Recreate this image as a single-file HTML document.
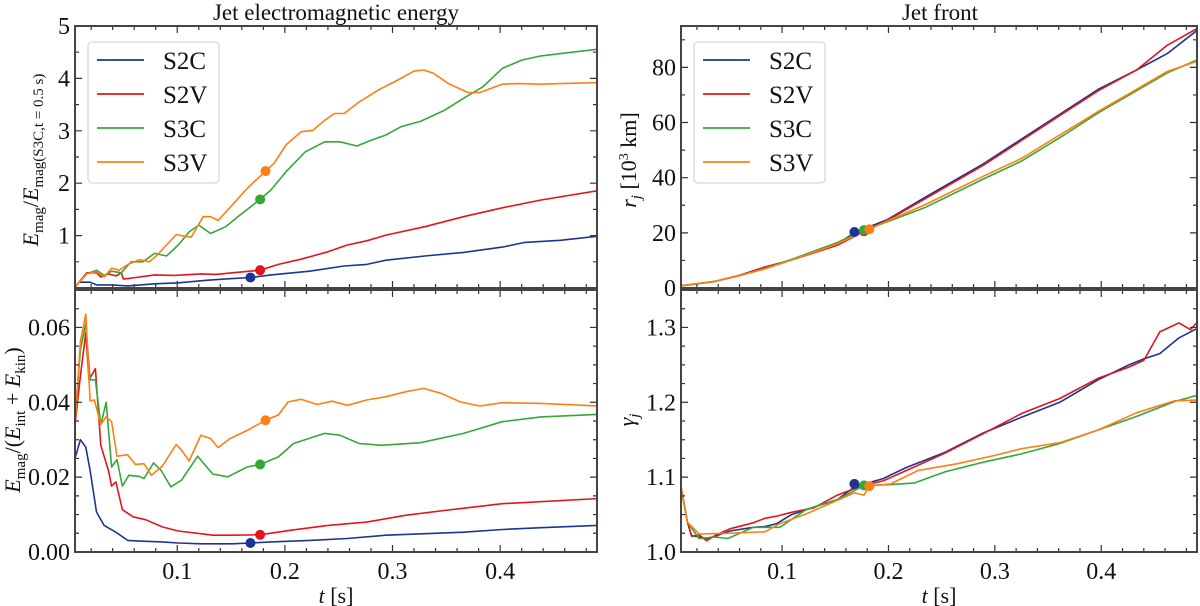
<!DOCTYPE html>
<html><head><meta charset="utf-8"><style>
html,body{margin:0;padding:0;background:#fff;}
svg{display:block;font-family:"Liberation Serif",serif;}
</style></head><body>
<svg id="fig" width="1200" height="606" viewBox="0 0 1200 606" xmlns="http://www.w3.org/2000/svg">
<text x="336" y="20" font-size="23" text-anchor="middle" fill="#111">Jet electromagnetic energy</text>
<text x="940" y="20" font-size="23" text-anchor="middle" fill="#111">Jet front</text>
<g id="plots"></g>
</svg>
<script>
const NS="http://www.w3.org/2000/svg";
const seriesNames=["S2C","S2V","S3C","S3V"];
const colors=["#1c3591","#e4141b","#35a839","#ff7f12"];
const xTicks=[0.1,0.2,0.3,0.4];
const xTickLabels=["0.1","0.2","0.3","0.4"];
// top-left: Emag ratio
const tlS2C=[[.005,.02],[.009,.11],[.019,.11],[.025,.06],[.039,.06],[.054,.04],[.079,.08],[.101,.10],[.130,.15],[.151,.18],[.168,.20],[.187,.25],[.223,.32],[.255,.42],[.276,.45],[.294,.53],[.330,.61],[.366,.68],[.402,.78],[.423,.87],[.456,.91],[.492,.99]];
const tlS2V=[[.005,.02],[.016,.29],[.025,.29],[.029,.21],[.036,.27],[.043,.23],[.048,.29],[.050,.17],[.065,.21],[.079,.25],[.097,.24],[.122,.27],[.136,.26],[.151,.29],[.177,.34],[.194,.45],[.215,.55],[.240,.69],[.258,.82],[.276,.90],[.294,1.01],[.330,1.17],[.366,1.36],[.402,1.53],[.438,1.68],[.492,1.86]];
const tlS3C=[[.005,.02],[.016,.27],[.025,.34],[.032,.24],[.039,.32],[.048,.29],[.057,.50],[.068,.50],[.079,.66],[.090,.61],[.101,.82],[.111,1.07],[.120,1.20],[.131,1.04],[.145,1.17],[.158,1.39],[.177,1.69],[.187,1.87],[.201,2.22],[.219,2.60],[.237,2.79],[.251,2.79],[.267,2.71],[.280,2.82],[.294,2.92],[.308,3.08],[.326,3.18],[.348,3.39],[.366,3.62],[.384,3.84],[.402,4.19],[.420,4.35],[.438,4.43],[.467,4.50],[.492,4.56]];
const tlS3V=[[.005,.02],[.016,.27],[.025,.31],[.032,.21],[.039,.38],[.046,.34],[.055,.46],[.065,.54],[.074,.50],[.081,.62],[.090,.82],[.099,1.02],[.106,.99],[.113,.97],[.124,1.36],[.131,1.36],[.138,1.29],[.151,1.58],[.165,1.90],[.182,2.23],[.190,2.38],[.201,2.73],[.215,2.98],[.226,3.01],[.237,3.20],[.246,3.33],[.255,3.33],[.269,3.55],[.287,3.78],[.305,3.97],[.320,4.14],[.329,4.16],[.338,4.10],[.352,3.90],[.370,3.73],[.381,3.73],[.402,3.89],[.417,3.90],[.438,3.89],[.456,3.90],[.492,3.92]];
const tlDots=[[.168,.20],[.177,.34],[.177,1.69],[.182,2.23]];
// bottom-left: Emag/(Eint+Ekin)
const blS2C=[[.005,.025],[.010,.030],[.015,.028],[.019,.0218],[.025,.0107],[.032,.0071],[.043,.0053],[.054,.0031],[.065,.0029],[.086,.0027],[.101,.0024],[.122,.0022],[.151,.0022],[.168,.0024],[.187,.0027],[.223,.0031],[.258,.0036],[.294,.0045],[.330,.0049],[.366,.0053],[.402,.0060],[.438,.0065],[.492,.0071]];
const blS2V=[[.005,.034],[.010,.047],[.015,.0586],[.018,.046],[.024,.049],[.029,.0285],[.036,.0218],[.039,.0176],[.043,.0187],[.049,.0113],[.059,.0094],[.071,.0086],[.086,.0067],[.101,.0056],[.133,.0045],[.151,.0045],[.177,.0046],[.205,.0058],[.240,.0071],[.276,.0080],[.312,.0098],[.348,.0111],[.402,.0129],[.492,.0143]];
const blS3C=[[.005,.036],[.010,.054],[.015,.061],[.019,.046],[.024,.046],[.029,.034],[.034,.040],[.039,.0227],[.044,.0247],[.049,.0176],[.055,.0205],[.065,.0202],[.069,.0196],[.078,.0238],[.085,.0218],[.094,.0174],[.104,.0192],[.119,.0256],[.126,.0232],[.133,.0208],[.147,.0201],[.165,.0227],[.177,.0234],[.194,.0254],[.208,.0290],[.237,.0317],[.251,.0312],[.269,.0290],[.290,.0285],[.326,.0292],[.366,.0317],[.402,.0348],[.438,.0361],[.492,.0368]];
const blS3V=[[.005,.034],[.010,.0562],[.015,.0636],[.019,.0404],[.023,.0406],[.029,.0341],[.034,.0361],[.039,.0348],[.044,.0256],[.054,.026],[.061,.0234],[.069,.0236],[.076,.0205],[.086,.0229],[.099,.0287],[.104,.0272],[.111,.0243],[.122,.0312],[.131,.0303],[.138,.0279],[.149,.0303],[.165,.0325],[.182,.0352],[.194,.0366],[.203,.0401],[.215,.0408],[.230,.0394],[.244,.0403],[.258,.0392],[.276,.0406],[.294,.0415],[.312,.0428],[.329,.0437],[.345,.0424],[.363,.0401],[.381,.039],[.402,.0399],[.438,.0397],[.492,.039]];
const blDots=[[.168,.0024],[.177,.0046],[.177,.0234],[.182,.0352]];
// top-right: r_j
const trS2C=[[.005,.8],[.037,2.4],[.060,4.5],[.083,7.3],[.112,10.5],[.152,16],[.168,20],[.199,24.8],[.235,33],[.289,45],[.325,54],[.361,63],[.397,72],[.433,79],[.462,85],[.492,94]];
const trS2V=[[.005,.8],[.037,2.4],[.060,4.6],[.083,7.5],[.112,10.5],[.152,15.5],[.177,20.5],[.199,24.5],[.235,32.5],[.289,44.5],[.325,53.5],[.361,62.5],[.397,71.5],[.433,79],[.462,88],[.492,94.5]];
const trS3C=[[.005,.8],[.037,2.4],[.060,4.5],[.083,7.0],[.112,10.8],[.152,16.5],[.177,21],[.199,24],[.235,29.3],[.289,39.5],[.325,46],[.361,54.5],[.397,63.5],[.433,71.5],[.462,78],[.492,83]];
const trS3V=[[.005,.8],[.037,2.4],[.060,4.5],[.083,6.8],[.112,10.5],[.152,16],[.182,21.3],[.199,24.3],[.235,30.3],[.289,40.5],[.325,47],[.361,55.5],[.397,64],[.433,72],[.462,78.5],[.492,82.5]];
const trDots=[[.168,20.3],[.177,20.6],[.177,21],[.182,21.3]];
// bottom-right: gamma_j
const brS2C=[[.005,1.087],[.011,1.040],[.015,1.022],[.022,1.020],[.029,1.018],[.037,1.021],[.051,1.028],[.073,1.033],[.084,1.034],[.095,1.038],[.109,1.050],[.130,1.060],[.152,1.070],[.168,1.087],[.195,1.098],[.217,1.113],[.253,1.133],[.289,1.159],[.325,1.180],[.361,1.200],[.397,1.230],[.426,1.250],[.440,1.258],[.455,1.265],[.473,1.286],[.492,1.300]];
const brS2V=[[.005,1.087],[.011,1.040],[.015,1.021],[.022,1.023],[.029,1.015],[.037,1.022],[.051,1.031],[.073,1.039],[.084,1.045],[.095,1.048],[.109,1.053],[.130,1.059],[.152,1.076],[.174,1.088],[.195,1.095],[.217,1.109],[.253,1.132],[.289,1.158],[.325,1.185],[.361,1.205],[.397,1.232],[.426,1.247],[.440,1.256],[.455,1.294],[.473,1.306],[.484,1.297],[.492,1.310]];
const brS3C=[[.005,1.087],[.011,1.040],[.022,1.018],[.037,1.020],[.049,1.018],[.073,1.033],[.098,1.033],[.123,1.057],[.152,1.070],[.177,1.089],[.202,1.090],[.224,1.092],[.253,1.107],[.289,1.120],[.325,1.131],[.361,1.145],[.397,1.163],[.433,1.181],[.469,1.201],[.492,1.210]];
const brS3V=[[.005,1.087],[.011,1.040],[.022,1.024],[.047,1.025],[.084,1.027],[.098,1.038],[.123,1.051],[.152,1.069],[.168,1.079],[.177,1.076],[.182,1.088],[.202,1.091],[.228,1.109],[.265,1.118],[.300,1.129],[.325,1.138],[.361,1.146],[.397,1.163],[.433,1.186],[.469,1.202],[.492,1.203]];
const brDots=[[.168,1.091],[.177,1.089],[.182,1.088]];
const brDotColors=[0,2,3];

const xDomain=[0.005,0.49];
const panels=[
 {name:"magnetic-energy-ratio",x0:75,x1:597,y0:26,y1:288,ymin:0,ymax:5,ticks:[1,2,3,4,5],labels:["1","2","3","4","5"],minor:0.5,series:[tlS2C,tlS2V,tlS3C,tlS3V],dots:tlDots,dotC:[0,1,2,3],xlabels:false,legend:true},
 {name:"magnetic-energy-fraction",x0:75,x1:597,y0:290,y1:552,ymin:0,ymax:0.07,ticks:[0,0.02,0.04,0.06],labels:["0.00","0.02","0.04","0.06"],minor:0.005,series:[blS2C,blS2V,blS3C,blS3V],dots:blDots,dotC:[0,1,2,3],xlabels:true},
 {name:"jet-front-radius",x0:681,x1:1197,y0:26,y1:288,ymin:0,ymax:95,ticks:[0,20,40,60,80],labels:["0","20","40","60","80"],minor:10,series:[trS2C,trS2V,trS3C,trS3V],dots:trDots,dotC:[0,1,2,3],xlabels:false,legend:true},
 {name:"jet-front-lorentz",x0:681,x1:1197,y0:290,y1:552,ymin:1.0,ymax:1.35,ticks:[1.0,1.1,1.2,1.3],labels:["1.0","1.1","1.2","1.3"],minor:0.025,series:[brS2C,brS2V,brS3C,brS3V],dots:brDots,dotC:brDotColors,xlabels:true}
];
const root=document.getElementById("plots");
function mk(tag,attrs,parent){const e=document.createElementNS(NS,tag);for(const k in attrs)e.setAttribute(k,attrs[k]);(parent||root).appendChild(e);return e;}
panels.forEach(p=>{
 const g=mk("g",{});
 
 
 const sx=t=>p.x0+(t-xDomain[0])/(xDomain[1]-xDomain[0])*(p.x1-p.x0);
 const sy=v=>p.y1-(v-p.ymin)/(p.ymax-p.ymin)*(p.y1-p.y0);
 const cp=mk("clipPath",{id:"cp-"+p.name},g);
 mk("rect",{x:p.x0,y:p.y0,width:p.x1-p.x0,height:p.y1-p.y0},cp);
 p.series.forEach((s,i)=>{
  const pl=mk("polyline",{points:s.map(d=>sx(d[0]).toFixed(1)+","+sy(d[1]).toFixed(1)).join(" "),fill:"none",stroke:colors[i],"stroke-width":1.6,"stroke-linejoin":"round","clip-path":"url(#cp-"+p.name+")"},g);
  
  
 });
 p.dots.forEach((d,i)=>{
  const c=mk("circle",{cx:sx(d[0]),cy:sy(d[1]),r:5,fill:colors[p.dotC[i]]},g);
  
  
 });
 let tk="";
 for(let t=0.02;t<0.49;t+=0.02){const x=sx(t),L=Math.abs(Math.round(t*10)-t*10)<1e-6?7:4;tk+=`M${x},${p.y1}v${-L}M${x},${p.y0}v${L}`;}
 for(let v=p.ymin;v<=p.ymax+1e-9;v+=p.minor){const y=sy(v);const maj=p.ticks.some(q=>Math.abs(q-v)<1e-6);const L=maj?7:4;tk+=`M${p.x0},${y}h${L}M${p.x1},${y}h${-L}`;}
 const tp=mk("path",{d:tk,stroke:"#333","stroke-width":1.2,fill:"none"},g);
 
 
 const fr=mk("rect",{x:p.x0,y:p.y0,width:p.x1-p.x0,height:p.y1-p.y0,fill:"none",stroke:"#444","stroke-width":2},g);
 
 
 p.ticks.forEach((v,i)=>{
  const tx=mk("text",{x:p.x0-5,y:sy(v)+8,"font-size":24,"text-anchor":"end",fill:"#111"},g);
  tx.textContent=p.labels[i];
  
  
 });
 if(p.xlabels){
  xTicks.forEach((t,i)=>{
   const tx=mk("text",{x:sx(t),y:p.y1+27,"font-size":24,"text-anchor":"middle",fill:"#111"},g);
   tx.textContent=xTickLabels[i];
   
   
  });
  const xl=mk("text",{x:(p.x0+p.x1)/2,y:p.y1+51,"font-size":22,"text-anchor":"middle",fill:"#111"},g);
  xl.innerHTML='<tspan font-style="italic">t</tspan> [s]';
  
  
 }
 if(p.legend){
  const lg=mk("g",{},g);
  
  
  const lx=p.x0+13;
  mk("rect",{x:lx,y:42,width:131,height:141,rx:4,fill:"#fff","fill-opacity":0.85,stroke:"#ccc","stroke-width":1},lg);
  seriesNames.forEach((n,i)=>{
   const y=60+i*34;
   const e=mk("g",{},lg);
   
   
   mk("line",{x1:lx+9,x2:lx+56,y1:y,y2:y,stroke:colors[i],"stroke-width":1.8},e);
   const t=mk("text",{x:lx+75,y:y+9,"font-size":25,fill:"#111"},e);
   t.textContent=n;
  });
 }
});
function ytitle(name,x,y,html){const t=mk("text",{transform:`translate(${x},${y}) rotate(-90)`,"font-size":22,"text-anchor":"middle",fill:"#111"});t.innerHTML=html;}
ytitle('y-axis-title-energy-ratio',38,160,'<tspan font-style="italic">E</tspan><tspan font-size="15" dy="5">mag</tspan><tspan dy="-5">/</tspan><tspan font-style="italic">E</tspan><tspan font-size="15" dy="5">mag(S3C,t = 0.5 s)</tspan>');
ytitle('y-axis-title-energy-fraction',20,420,'<tspan font-style="italic">E</tspan><tspan font-size="15" dy="5">mag</tspan><tspan dy="-5">/(</tspan><tspan font-style="italic">E</tspan><tspan font-size="15" dy="5">int</tspan><tspan dy="-5"> + </tspan><tspan font-style="italic">E</tspan><tspan font-size="15" dy="5">kin</tspan><tspan dy="-5">)</tspan>');
ytitle('y-axis-title-radius',636,160,'<tspan font-style="italic">r</tspan><tspan font-size="15" font-style="italic" dy="5">j</tspan><tspan dy="-5"> [10</tspan><tspan font-size="14" dy="-8">3</tspan><tspan dy="8"> km]</tspan>');
ytitle('y-axis-title-lorentz',634,420,'<tspan font-style="italic">γ</tspan><tspan font-size="15" font-style="italic" dy="5">j</tspan>');
</script>
</body></html>
